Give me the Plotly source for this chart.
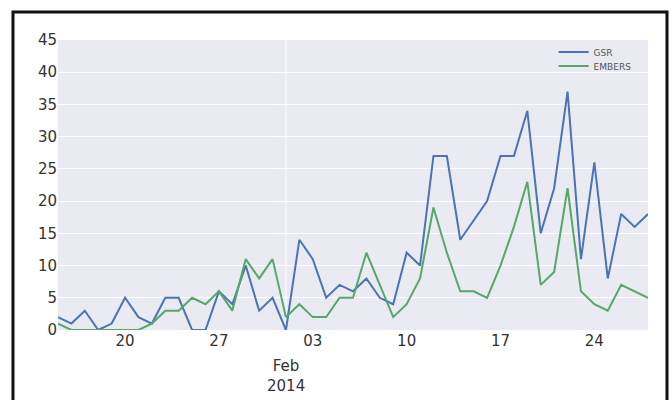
import pandas as pd
import plotly.graph_objects as go

dates = pd.date_range("2014-01-15", "2014-02-28", freq="D")
gsr = [2, 1, 3, 0, 1, 5, 2, 1, 5, 5, 0, 0, 6, 4, 10, 3, 5, 0,
       14, 11, 5, 7, 6, 8, 5, 4, 12, 10, 27, 27, 14, 17, 20, 27, 27, 34,
       15, 22, 37, 11, 26, 8, 18, 16, 18]
embers = [1, 0, 0, 0, 0, 0, 0, 1, 3, 3, 5, 4, 6, 3, 11, 8, 11, 2,
          4, 2, 2, 5, 5, 12, 7, 2, 4, 8, 19, 12, 6, 6, 5, 10, 16, 23,
          7, 9, 22, 6, 4, 3, 7, 6, 5]
week_ticks = ["2014-01-20", "2014-01-27", "2014-02-03", "2014-02-10", "2014-02-17", "2014-02-24"]
week_labels = ["20", "27", "03", "10", "17", "24"]
month_tick = "2014-02-01"
month_label = "Feb<br>2014"
y_ticks = list(range(0, 50, 5))

FONT = "DejaVu Sans"
TXT = "#333333"
fig = go.Figure()
fig.add_trace(go.Scatter(x=dates, y=gsr, mode="lines", name="GSR", legend="legend",
                         line=dict(color="#4a74b4", width=2)))
fig.add_trace(go.Scatter(x=dates, y=embers, mode="lines", name="EMBERS", legend="legend2",
                         line=dict(color="#55a868", width=2)))

leg_common = dict(xanchor="left", yanchor="middle", bgcolor="rgba(0,0,0,0)",
                  font=dict(size=9, color="#555555"))
fig.update_layout(
    width=670, height=400,
    margin=dict(l=58, r=22, t=40, b=70),
    paper_bgcolor="white", plot_bgcolor="#eaeaf2",
    font=dict(family=FONT, size=15, color=TXT),
    showlegend=True,
    legend=dict(x=0.84, y=0.9586, **leg_common),
    legend2=dict(x=0.84, y=0.9103, **leg_common),
    xaxis=dict(range=[dates[0], dates[-1]], tickvals=week_ticks, ticktext=week_labels,
               showgrid=False, zeroline=False, ticks="", showline=False,
               tickfont=dict(size=15, color=TXT)),
    yaxis=dict(range=[0, 45], tickvals=y_ticks, showgrid=True, gridcolor="white",
               gridwidth=1, zeroline=False, ticks="", showline=False,
               tickfont=dict(size=15, color=TXT)),
)
# major (month) gridline
fig.add_shape(type="line", xref="x", yref="paper", x0=month_tick, x1=month_tick,
              y0=0, y1=1, line=dict(color="white", width=1), layer="below")
fig.add_annotation(x=month_tick, xref="x", y=-0.085, yref="paper", text=month_label,
                   showarrow=False, yanchor="top", font=dict(size=15, color=TXT))
# outer frame
fig.add_shape(type="path", xref="paper", yref="paper",
              path="M -0.0763,-0.3 L -0.0763,1.0966 L 1.0322,1.0966 L 1.0322,-0.3",
              line=dict(color="#111111", width=3))

fig.write_html("out.html", config={"displayModeBar": False},
               post_script="document.body.style.margin='0';document.body.style.overflow='hidden';")
